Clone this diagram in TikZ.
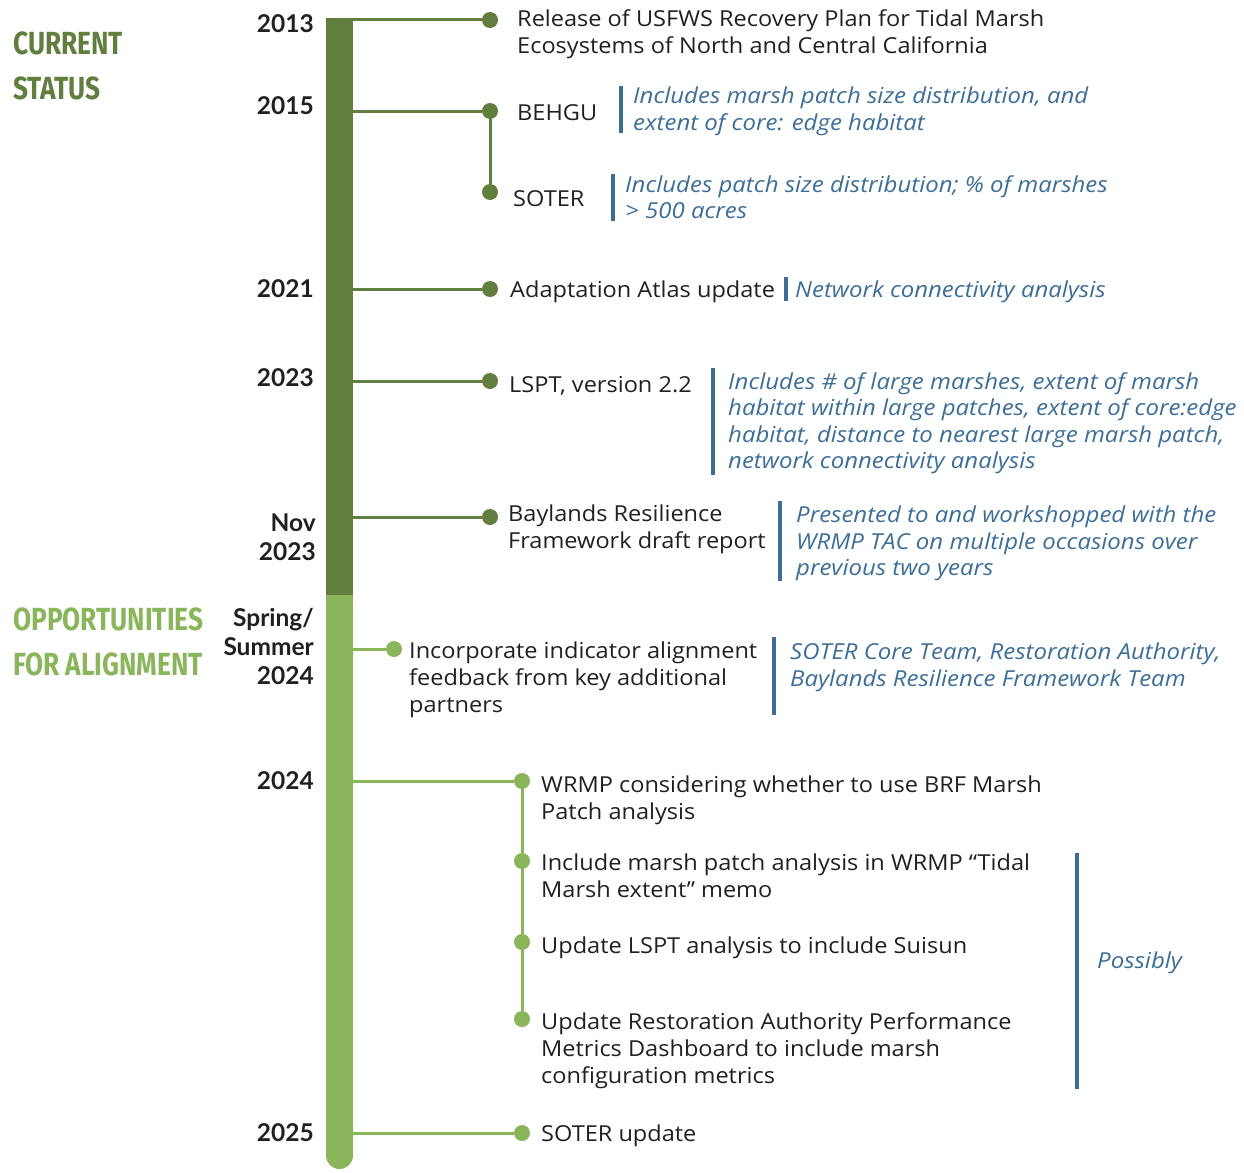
\documentclass[tikz,border=0pt]{standalone}
\usepackage{fontspec}
\setmainfont{Open Sans}[FakeStretch=1.07]
\newfontfamily\notefont{Open Sans}[FakeStretch=1.09]
\newfontfamily\yearfont{Lato}
\newfontfamily\headfont{Fira Sans}
\definecolor{dkgreen}{HTML}{627E3E}
\definecolor{ltgreen}{HTML}{8BB55B}
\definecolor{noteblue}{HTML}{3D6E96}
\definecolor{ink}{HTML}{231F20}
\tikzset{
  dotnode/.style={circle, fill=#1, minimum size=16pt, inner sep=0pt},
  conn/.style={line width=3pt, draw=#1},
  item/.style={anchor=north west, inner sep=0pt, align=left, font=\fontsize{22}{27}\selectfont, text=ink},
  itemw/.style={anchor=base west, inner sep=0pt, font=\fontsize{22}{27}\selectfont, text=ink},
  note/.style={anchor=north west, inner sep=0pt, align=left, font=\notefont\fontsize{22}{26.5}\selectfont\itshape, text=noteblue},
  notew/.style={anchor=base west, inner sep=0pt, font=\notefont\fontsize{22}{26.5}\selectfont\itshape, text=noteblue},
  notebar/.style={line width=4pt, draw=noteblue},
  year/.style={anchor=east, inner sep=0pt, font=\yearfont\fontsize{24.5}{29}\selectfont\bfseries, text=ink},
  yearml/.style={anchor=north east, inner sep=0pt, align=right, font=\yearfont\fontsize{24.5}{29}\selectfont\bfseries, text=ink},
  head/.style={anchor=north west, inner sep=0pt, align=left, xscale=0.82, transform shape, font=\headfont\fontsize{32}{45}\selectfont\bfseries, text=#1},
}
\begin{document}
\begin{tikzpicture}[x=1pt, y=-1pt]
\useasboundingbox (0,0) rectangle (1244,1172);

% section headers
\node[head=dkgreen] (hcur) at (13,32) {CURRENT\\STATUS};
\node[head=ltgreen] (hopp) at (13,608) {OPPORTUNITIES\\FOR ALIGNMENT};

% bar anchors
\coordinate (b1) at (340,20);
\coordinate (b2) at (340,111);
\coordinate (b4) at (340,289);
\coordinate (b5) at (340,381);
\coordinate (b6) at (340,517);
\coordinate (b7) at (340,649);
\coordinate (b8) at (340,781);
\coordinate (b12) at (340,1133);

% dots
\node[dotnode=dkgreen] (d1) at (490,20) {};
\node[dotnode=dkgreen] (d2) at (490,111) {};
\node[dotnode=dkgreen] (d3) at (490,192) {};
\node[dotnode=dkgreen] (d4) at (490,289) {};
\node[dotnode=dkgreen] (d5) at (490,381) {};
\node[dotnode=dkgreen] (d6) at (490,517) {};
\node[dotnode=ltgreen] (d7) at (394,649) {};
\node[dotnode=ltgreen] (d8) at (522,781) {};
\node[dotnode=ltgreen] (d9) at (522,861) {};
\node[dotnode=ltgreen] (d10) at (522,942) {};
\node[dotnode=ltgreen] (d11) at (522,1019) {};
\node[dotnode=ltgreen] (d12) at (522,1133) {};

% connectors
\draw[conn=dkgreen] (b1) -- (d1);
\draw[conn=dkgreen] (b2) -- (d2);
\draw[conn=dkgreen] (d2) -- (d3);
\draw[conn=dkgreen] (b4) -- (d4);
\draw[conn=dkgreen] (b5) -- (d5);
\draw[conn=dkgreen] (b6) -- (d6);
\draw[conn=ltgreen] (b7) -- (d7);
\draw[conn=ltgreen] (b8) -- (d8);
\draw[conn=ltgreen] (d8) -- (d9) -- (d10) -- (d11);
\draw[conn=ltgreen] (b12) -- (d12);

% timeline bar
\fill[dkgreen] (326,18) rectangle (353,595);
\fill[ltgreen, rounded corners=13.5pt] (326,595) -- (326,1169) -- (353,1169) -- (353,595) -- cycle;
\fill[ltgreen] (326,595) rectangle (353,640);

% years
\node[year] (y2013) at (314,24) {2013};
\node[year] (y2015) at (314,106) {2015};
\node[year] (y2021) at (314,289) {2021};
\node[year] (y2023) at (314,378) {2023};
\node[yearml] (ynov) at (316,514) {Nov\\2023};
\node[yearml] (yspr) at (314,608) {Spring/\\Summer\\2024};
\node[year] (y2024) at (314,781) {2024};
\node[year] (y2025) at (314,1133) {2025};

% items
\node[item] (t1) at (517,9) {Release of USFWS Recovery Plan for Tidal Marsh\\Ecosystems of North and Central California};
\node[itemw] (t2) at (517,120) {BEHGU};
\node[itemw] (t3) at (513,206) {SOTER};
\node[itemw] (t4) at (510,297) {Adaptation Atlas update};
\node[itemw] (t5) at (509,392) {LSPT, version 2.2};
\node[item] (t6) at (508,505) {Baylands Resilience\\Framework draft report};
\node[item] (t7) at (409,642) {Incorporate indicator alignment\\feedback from key additional\\partners};
\node[item] (t8) at (541,776) {WRMP considering whether to use BRF Marsh\\Patch analysis};
\node[item] (t9) at (541,854) {Include marsh patch analysis in WRMP “Tidal\\Marsh extent” memo};
\node[itemw] (t10) at (541,953) {Update LSPT analysis to include Suisun};
\node[item] (t11) at (541,1012) {Update Restoration Authority Performance\\Metrics Dashboard to include marsh\\configuration metrics};
\node[itemw] (t12) at (541,1141) {SOTER update};

% notes
\draw[notebar] (621,86) -- (621,133);
\node[note] (n2) at (633,87) {Includes marsh patch size distribution, and\\extent of core: edge habitat};
\draw[notebar] (613,174) -- (613,221);
\node[note] (n3) at (625,175) {Includes patch size distribution; \% of marshes\\> 500 acres};
\draw[notebar] (786,277) -- (786,301);
\node[notew] (n4) at (795,297) {Network connectivity analysis};
\draw[notebar] (713,368) -- (713,475);
\node[note] (n5) at (728,372) {Includes \# of large marshes, extent of marsh\\habitat within large patches, extent of core:edge\\habitat, distance to nearest large marsh patch,\\network connectivity analysis};
\draw[notebar] (780,501) -- (780,581);
\node[note] (n6) at (796,506) {Presented to and workshopped with the\\WRMP TAC on multiple occasions over\\previous two years};
\draw[notebar] (774,637) -- (774,715);
\node[note] (n7) at (790,643) {SOTER Core Team, Restoration Authority,\\Baylands Resilience Framework Team};
\draw[notebar] (1077,853) -- (1077,1089);
\node[notew] (n9) at (1097,968) {Possibly};
\end{tikzpicture}
\end{document}
